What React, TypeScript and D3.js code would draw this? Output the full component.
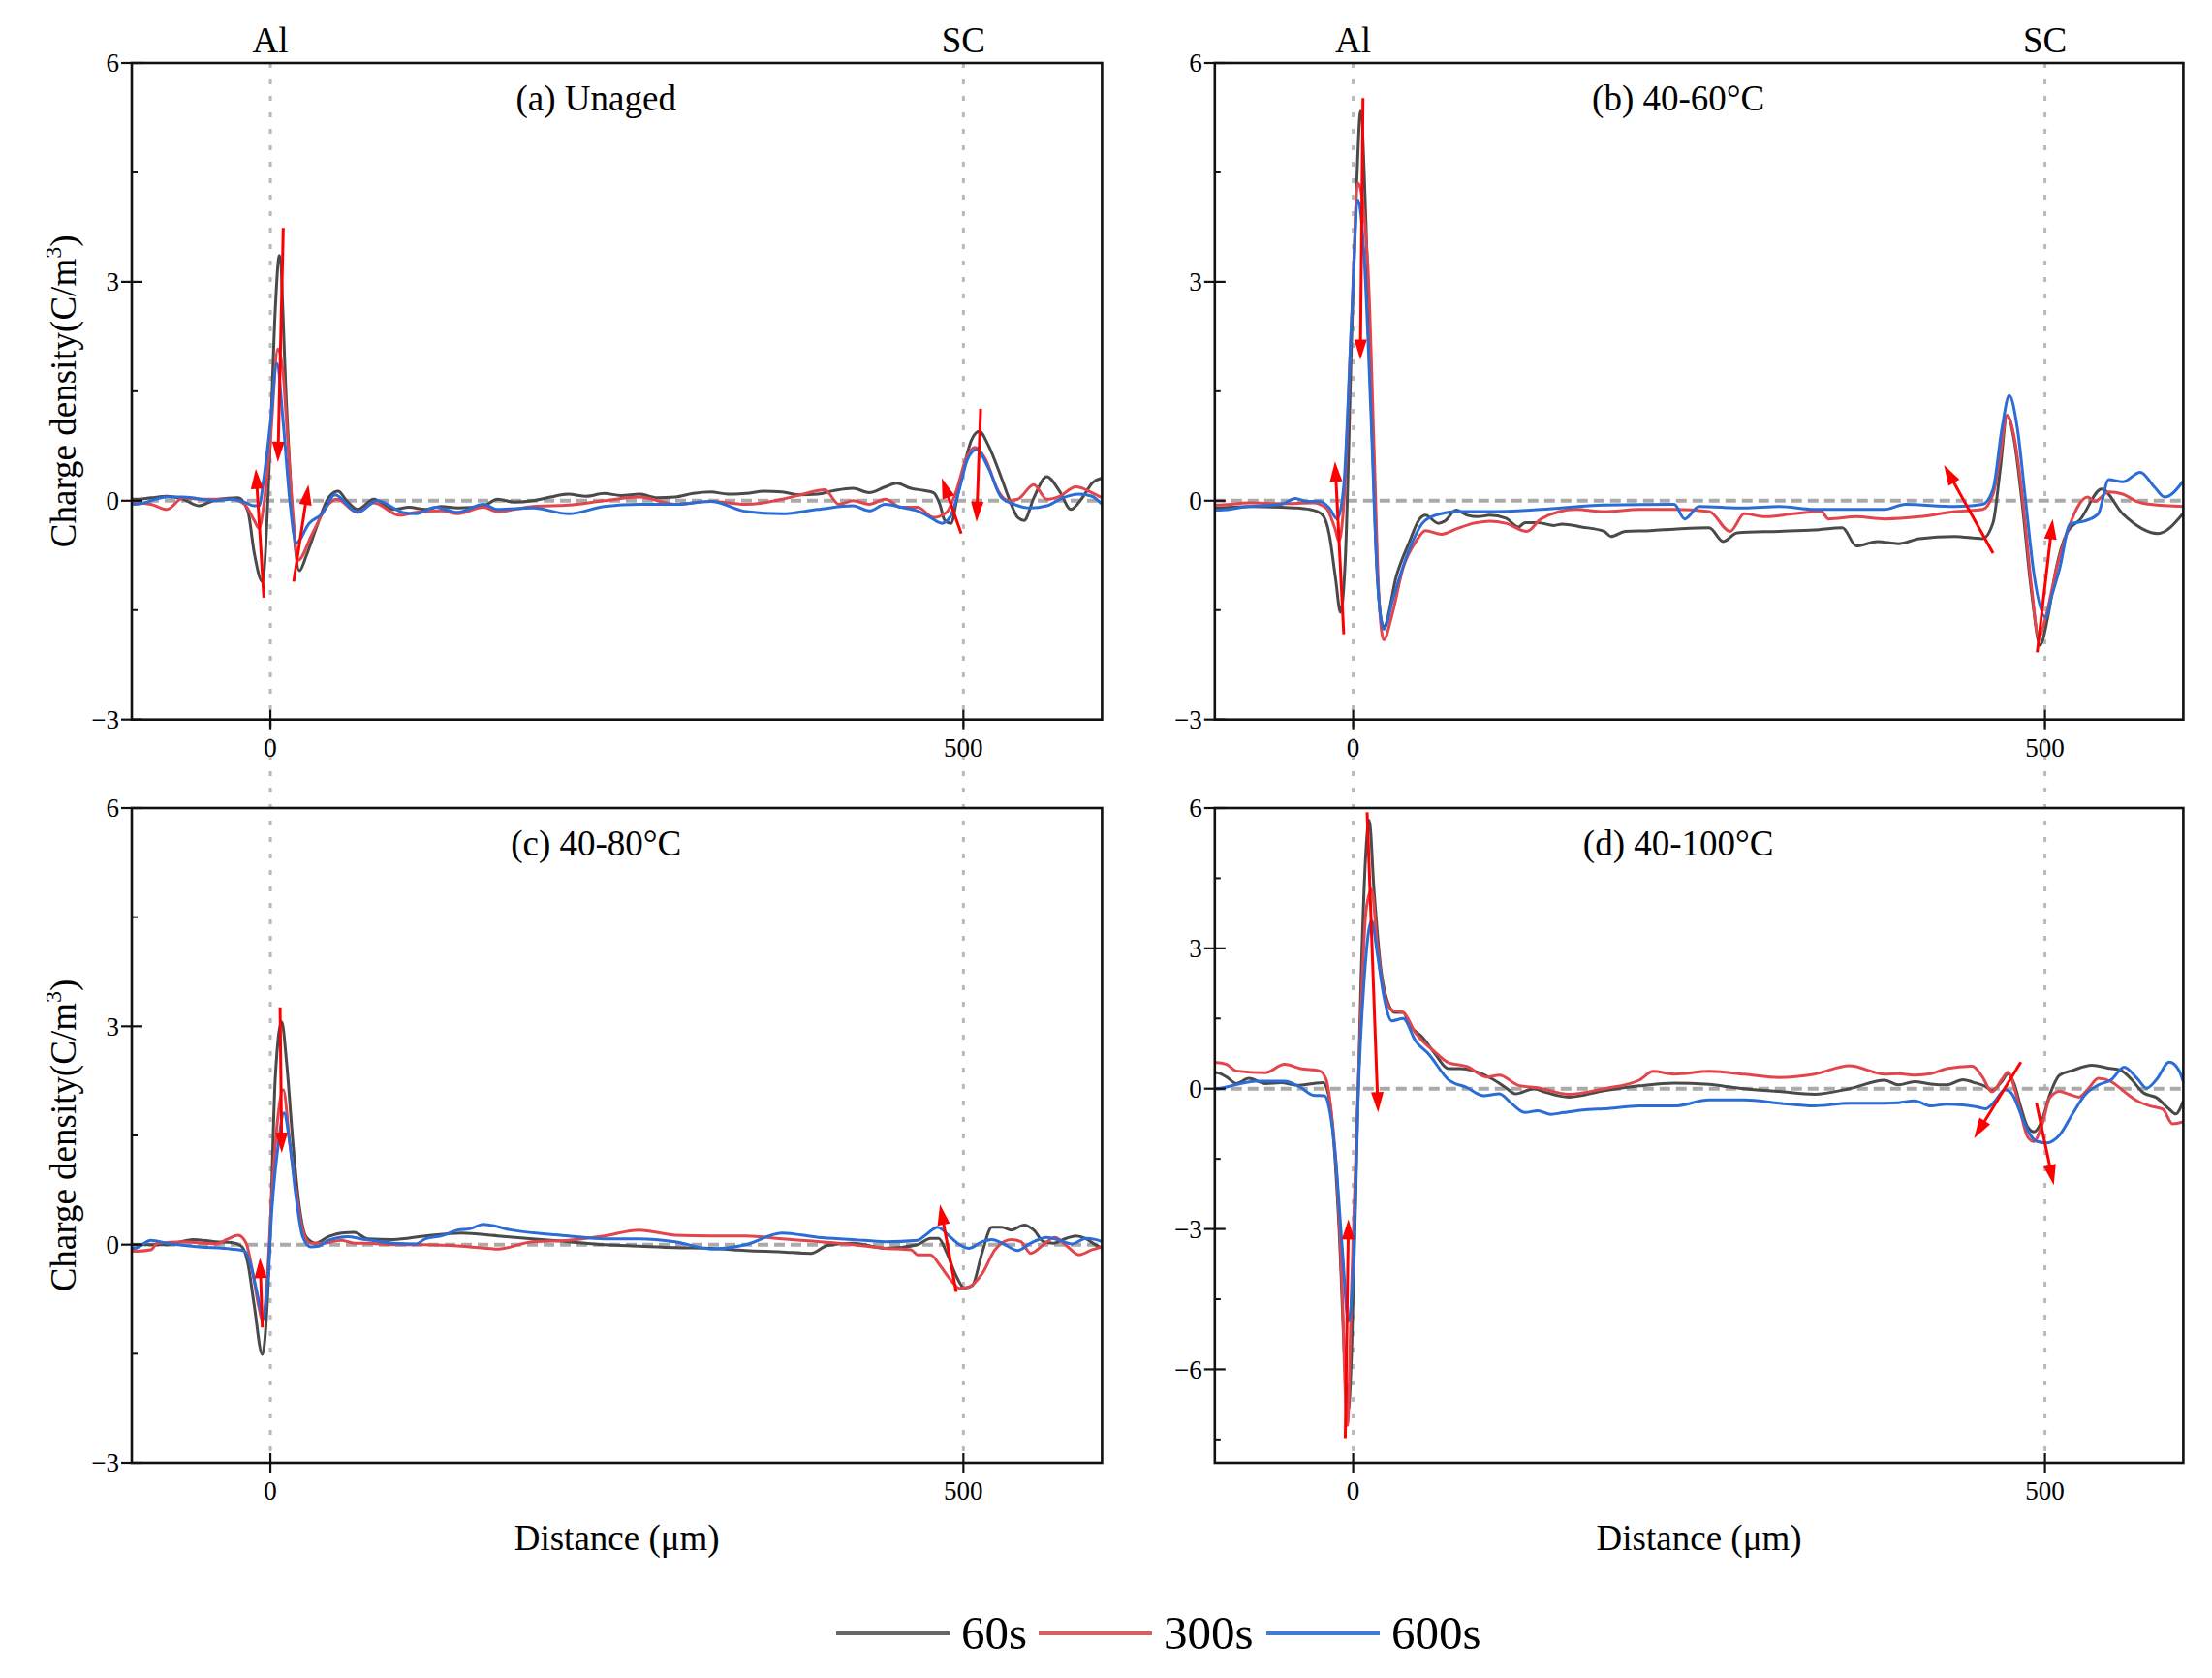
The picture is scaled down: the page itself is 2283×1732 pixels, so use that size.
import * as d3 from 'd3';

type Pt = [number, number];
// arrow: from (x, y) to the tip (x, y), in data units
type ArrowSpec = [number, number, number, number];

// ---- values (distance in µm, charge density in C/m³) ----

const unaged60: Pt[] = [
  [-100, 0.02], [-97.9, 0.02], [-86, 0.04], [-74.6, 0.06], [-62.9, 0.02], [-51.3, -0.07], [-44, -0.02],
  [-37.3, 0.02], [-23.3, 0.04], [-16.3, -0.14], [-11.7, -0.71], [-5.8, -1.11], [0, 0.84], [3.5, 2.61],
  [6.5, 3.36], [11.7, 1.28], [16.3, -0.27], [21, -0.96], [26, -0.75], [32.6, -0.4], [41.9, 0.04],
  [48.9, 0.13], [55, 0], [62.9, -0.12], [74.6, 0.02], [88.6, -0.12], [100.2, -0.09], [111.9, -0.12],
  [123, -0.08], [135.2, -0.1], [153.8, -0.07], [163.8, 0.02], [176, -0.02], [189.4, 0], [202, 0.05],
  [215.1, 0.09], [228, 0.06], [240.8, 0.1], [253, 0.07], [266.4, 0.09], [279, 0.04], [292.1, 0.05],
  [305, 0.1], [317.8, 0.12], [330, 0.09], [343.4, 0.1], [356, 0.13], [369.1, 0.12], [382, 0.08],
  [394.8, 0.09], [407, 0.14], [420.3, 0.17], [432, 0.11], [443.6, 0.19], [452, 0.24], [462, 0.17],
  [471.5, 0.14], [478.5, 0.11], [483, -0.05], [486.5, -0.27], [491, -0.31], [495.5, 0.04], [500.5, 0.48],
  [506, 0.84], [511.5, 0.95], [518.2, 0.75], [527.5, 0.31], [534.5, -0.05], [539.2, -0.23], [543.8, -0.27],
  [550.8, 0.04], [560.1, 0.33], [569.4, 0.13], [577.5, -0.12], [585.8, 0.04], [592.8, 0.24], [600, 0.31],
];
const unaged300: Pt[] = [
  [-100, -0.03], [-97.9, -0.03], [-86.2, -0.05], [-74.6, -0.12], [-62.9, 0.04], [-51.3, 0.02], [-28, 0.02],
  [-18.6, -0.05], [-11.7, -0.27], [-8.2, -0.38], [-4.7, -0.05], [0, 0.84], [5.4, 2.08], [9.3, 1.72],
  [11.7, 1.06], [16.3, -0.18], [19.8, -0.82], [30.3, -0.45], [41.9, -0.05], [47.8, 0.02], [62.9, -0.16],
  [74.6, -0.03], [93.2, -0.2], [104.9, -0.16], [123.5, -0.14], [135.2, -0.18], [153.8, -0.09], [163.8, -0.15],
  [176, -0.12], [189.4, -0.08], [215.1, -0.06], [240.8, 0], [266.4, 0.05], [292.1, -0.05], [317.8, -0.01],
  [343.4, -0.05], [369.1, 0.02], [384.5, 0.09], [399.9, 0.15], [410.2, -0.05], [420.3, 0], [432, -0.05],
  [443.6, 0.02], [455.2, -0.09], [466.9, -0.09], [478.5, -0.23], [487.8, -0.16], [494.8, 0.13], [501.8, 0.57],
  [508.3, 0.73], [515.9, 0.57], [525.2, 0.13], [532.2, 0], [539.2, 0.02], [550.8, 0.22], [560.1, 0.02],
  [569.4, 0.06], [581, 0.19], [592.8, 0.11], [600, 0.04],
];
const unaged600: Pt[] = [
  [-100, -0.05], [-97.9, -0.05], [-74.6, 0.05], [-62.9, 0.05], [-39.6, 0], [-28, 0.02], [-18.6, -0.02],
  [-11.7, -0.07], [-8.2, -0.07], [-4.7, 0.31], [0, 1.06], [4.7, 1.88], [9.3, 1.06], [14, 0], [18.6, -0.58],
  [28, -0.31], [37.3, -0.18], [46.6, 0.08], [62.9, -0.16], [76.9, 0], [95.6, -0.16], [104.9, -0.18],
  [118.9, -0.09], [135.2, -0.16], [153.8, -0.05], [163.8, -0.12], [189.4, -0.1], [215.1, -0.18], [240.8, -0.08],
  [266.4, -0.05], [292.1, -0.05], [317.8, -0.01], [343.4, -0.15], [369.1, -0.18], [394.8, -0.12], [420.3, -0.07],
  [432, -0.14], [443.6, -0.05], [455.2, -0.09], [466.9, -0.14], [476.2, -0.23], [484.4, -0.31], [490.2, -0.23],
  [497.2, 0.17], [503, 0.57], [509.5, 0.7], [518.2, 0.44], [527.5, 0.04], [536.8, -0.05], [548.5, -0.1],
  [560.1, -0.07], [571.7, 0.04], [583.4, 0.09], [592.8, 0.06], [600, -0.05],
];
const unagedArrows: ArrowSpec[] = [
  [-4.7, -1.33, -10.5, 0.44], [9.3, 3.74, 5.4, 0.53], [16.8, -1.11, 27.5, 0.22],
  [498.4, -0.45, 484.4, 0.31], [512.4, 1.26, 509.5, -0.29],
];

const aged60to60s: Pt[] = [
  [-100, -0.1], [-98.5, -0.1], [-75.3, -0.08], [-52.1, -0.09], [-40.5, -0.1], [-28.9, -0.13], [-21.9, -0.2],
  [-17.3, -0.46], [-12.7, -1.07], [-9.2, -1.53], [-5.7, -0.81], [-1.1, 2.24], [2.4, 4.27], [5.4, 5.34],
  [9.3, 3.77], [12.8, 1.48], [16.3, -0.56], [19.8, -1.58], [22.1, -1.73], [31.4, -1.02], [40.7, -0.56],
  [47.7, -0.26], [52.3, -0.2], [61.6, -0.31], [66.2, -0.28], [74.4, -0.13], [82.5, -0.2], [90.2, -0.22],
  [98.7, -0.2], [110.3, -0.24], [119.6, -0.36], [124.2, -0.3], [133.5, -0.3], [145.1, -0.34], [151, -0.32],
  [165, -0.36], [181.4, -0.42], [186.4, -0.49], [196.6, -0.42], [215, -0.41], [232, -0.39], [257.3, -0.37],
  [267.5, -0.56], [277.6, -0.44], [308, -0.42], [333.3, -0.4], [353.6, -0.37], [363.7, -0.62], [378.9, -0.56],
  [394.1, -0.59], [409.3, -0.52], [434.7, -0.49], [454.9, -0.52], [462.5, -0.3], [467.5, 0.4], [472.6, 1.17],
  [478, 0.8], [482.8, 0.09], [490.4, -1.27], [496.5, -1.98], [502, -1.6], [508.1, -0.93], [515.7, -0.45],
  [525.8, -0.25], [541, 0.16], [556.2, -0.18], [581.6, -0.45], [600, -0.17],
];
const aged60to300s: Pt[] = [
  [-100, -0.06], [-98.5, -0.06], [-75.3, -0.03], [-52.1, -0.04], [-28.9, -0.03], [-19.6, -0.1], [-12.7, -0.41],
  [-10.3, -0.56], [-6.8, -0.05], [-1.1, 2.49], [3.5, 4.35], [10.5, 3.26], [15.1, 0.71], [18.6, -1.32],
  [22.1, -1.91], [27.9, -1.58], [36.1, -0.92], [45.3, -0.56], [52.3, -0.41], [63.9, -0.46], [75.5, -0.38],
  [87.1, -0.31], [98.7, -0.28], [110.3, -0.31], [125.6, -0.42], [135.8, -0.25], [161.1, -0.12], [181.4, -0.15],
  [206.7, -0.12], [232, -0.12], [257.3, -0.15], [272.5, -0.42], [282.7, -0.18], [297.9, -0.22], [318.1, -0.18],
  [338.4, -0.15], [343.5, -0.25], [363.7, -0.22], [384, -0.25], [409.3, -0.22], [434.7, -0.15], [454.9, -0.12],
  [462.5, 0.09], [467.5, 0.6], [472.6, 1.17], [478, 0.85], [484, 0], [490.4, -1.2], [495.4, -1.87],
  [500.5, -1.6], [508.1, -0.95], [515.7, -0.45], [530.9, 0.05], [536, -0.01], [546.1, 0.12], [556.2, 0.09],
  [566.4, -0.01], [576.5, -0.05], [600, -0.08],
];
const aged60to600s: Pt[] = [
  [-100, -0.13], [-98.5, -0.13], [-75.3, -0.08], [-52.1, -0.05], [-41.6, 0.03], [-33.5, -0.01], [-24.2, -0.01],
  [-17.3, -0.1], [-11.5, -0.25], [-6.8, 0.2], [-1.1, 2.49], [3.5, 4.12], [8.2, 3.26], [12.8, 1.22],
  [17.5, -1.07], [22.1, -1.76], [29.1, -1.32], [40.7, -0.66], [50, -0.31], [59.3, -0.2], [75.5, -0.15],
  [98.7, -0.15], [135.8, -0.12], [181.4, -0.06], [232, -0.05], [239.6, -0.25], [250, -0.08], [282.7, -0.1],
  [308, -0.08], [333.3, -0.12], [384, -0.12], [399.2, -0.05], [434.7, -0.08], [454.9, -0.05], [462.5, 0.16],
  [469, 1], [474.2, 1.44], [480, 1], [486, 0], [492, -1], [500.5, -1.6], [505, -1.3], [510.6, -0.93],
  [518.2, -0.32], [528.4, -0.28], [538.5, -0.18], [546.1, 0.29], [556.2, 0.26], [568.9, 0.39], [579, 0.19],
  [586.6, 0.05], [600, 0.27],
];
const aged60Arrows: ArrowSpec[] = [
  [-6.8, -1.83, -13.1, 0.54], [7.1, 5.52, 5.2, 1.93], [462.5, -0.72, 427.1, 0.49], [494.4, -2.08, 505.6, -0.25],
];

const aged80to60s: Pt[] = [
  [-100, 0], [-97.9, 0], [-74.6, 0], [-55.9, 0.07], [-39.6, 0.04], [-28, 0.03], [-21, -0.02], [-16.3, -0.25],
  [-11.7, -0.83], [-5.8, -1.51], [-2.3, -0.83], [0, 0.2], [3.5, 2.28], [8.2, 3.06], [11.7, 2.5], [16.3, 1.39],
  [21, 0.51], [25.6, 0.11], [32.6, 0.02], [41.9, 0.11], [51.3, 0.16], [60.6, 0.17], [69.9, 0.08], [88.6, 0.07],
  [112, 0.12], [138, 0.16], [164, 0.12], [189, 0.08], [215, 0.04], [241, 0], [266, -0.02], [292, -0.04],
  [318, -0.05], [343, -0.08], [369, -0.1], [390, -0.12], [402, -0.01], [420.3, 0.02], [443.6, -0.05],
  [466.9, 0], [476.2, 0.085], [482.1, 0.085], [487.9, -0.11], [494.8, -0.43], [500.7, -0.6], [506.5, -0.56],
  [513.5, -0.11], [520.5, 0.24], [527.5, 0.24], [534.5, 0.2], [543.8, 0.27], [550.8, 0.2], [557.8, 0.04],
  [564.8, 0.02], [574.1, 0.085], [581.1, 0.12], [588.1, 0.085], [595.1, 0], [600, -0.05],
];
const aged80to300s: Pt[] = [
  [-100, -0.09], [-97.9, -0.09], [-86.2, -0.07], [-81.5, 0.02], [-62.9, 0.04], [-39.6, 0.01], [-30.3, 0.08],
  [-23.3, 0.13], [-17.5, 0.02], [-12.8, -0.38], [-8.2, -0.87], [-5.8, -1.05], [-2.3, -0.47], [1.2, 0.73],
  [4.7, 1.62], [9.3, 2.13], [14, 1.39], [18.6, 0.73], [23.3, 0.2], [29.1, 0.02], [37.3, 0.02], [51.3, 0.06],
  [60.6, 0.02], [69.9, 0.02], [88.6, 0], [112, 0], [138, -0.02], [164, -0.06], [189, 0.04], [215, 0.06],
  [241, 0.12], [266, 0.2], [292, 0.13], [318, 0.12], [343, 0.12], [369, 0.08], [420.3, 0], [443.6, -0.05],
  [462.2, -0.07], [466.9, -0.14], [476.2, -0.14], [483.3, -0.29], [490.2, -0.47], [497.2, -0.6], [504.2, -0.58],
  [513.5, -0.4], [522.8, -0.07], [534.5, 0.07], [541.5, 0.04], [548.5, -0.12], [557.8, 0], [566, 0.1],
  [574.1, -0.01], [583.4, -0.14], [592.8, -0.07], [600, -0.03],
];
const aged80to600s: Pt[] = [
  [-100, -0.05], [-97.9, -0.05], [-86.2, 0.06], [-74.6, 0.02], [-51.3, -0.03], [-28, -0.06], [-18.6, -0.09],
  [-14, -0.29], [-9.3, -0.69], [-5.1, -1.02], [-2.3, -0.6], [1.2, 0.51], [5.8, 1.39], [9.8, 1.81], [14, 1.39],
  [18.6, 0.64], [23.3, 0.11], [29.1, -0.03], [34.9, -0.02], [41.9, 0.06], [55.9, 0.11], [65.3, 0.08],
  [88.6, 0.02], [104.9, 0.01], [111.9, 0.08], [123.5, 0.12], [135.2, 0.2], [144.5, 0.22], [153.5, 0.28],
  [174, 0.2], [215, 0.12], [241, 0.08], [266, 0.08], [292, 0.04], [318, -0.06], [343, 0], [369, 0.16],
  [395, 0.1], [420.3, 0.07], [443.6, 0.04], [466.9, 0.06], [473.9, 0.15], [481.4, 0.24], [490.2, 0.11],
  [497.2, 0], [504.2, -0.05], [513.5, 0.04], [520.5, 0.07], [529.9, 0], [539.1, -0.08], [548.5, 0.02],
  [560.1, 0.1], [569.4, 0.06], [578.7, 0.01], [588.1, 0.085], [595.1, 0.07], [600, 0.04],
];
const aged80Arrows: ArrowSpec[] = [
  [-5.8, -1.14, -7.5, -0.18], [7, 3.26, 8.2, 1.26], [494.8, -0.65, 483.1, 0.55],
];

const aged100to60s: Pt[] = [
  [-100, 0.34], [-98.5, 0.34], [-91.5, 0.25], [-84.5, 0.11], [-75.3, 0.22], [-63.6, 0.11], [-52.1, 0.13],
  [-40.5, 0.07], [-28.9, 0.11], [-21.9, 0.13], [-18.4, -0.06], [-15, -0.78], [-10.3, -2.92], [-5.7, -6.04],
  [-3.4, -6.85], [-1.1, -5.6], [2.4, -1.58], [5.8, 2.43], [9.3, 5.11], [11.6, 5.74], [15.1, 4.22], [19.8, 2.61],
  [24.4, 1.9], [30.2, 1.63], [36.1, 1.63], [40.7, 1.36], [50, 1.1], [59.3, 0.74], [68.6, 0.43], [77.8, 0.43],
  [87.1, 0.38], [101, 0.2], [110.3, 0.02], [117.3, -0.11], [130.7, 0], [138.2, -0.07], [156, -0.18],
  [181.4, -0.04], [206.7, 0.06], [232, 0.12], [257.3, 0.09], [282.7, 0], [308, -0.06], [333.3, -0.12],
  [358.7, 0], [384, 0.18], [394.1, 0.08], [405.7, 0.15], [417.4, 0.1], [429, 0.08], [440.7, 0.19], [450, 0.12],
  [457, 0.05], [461.7, -0.04], [468.7, 0.15], [473.3, 0.32], [478, 0.08], [482.6, -0.4], [487.3, -0.81],
  [492, -0.92], [497.8, -0.68], [503.6, -0.12], [510.6, 0.29], [519.9, 0.39], [533.9, 0.5], [545.6, 0.44],
  [554.9, 0.39], [561.9, 0.22], [571.2, -0.09], [580.5, -0.19], [589.9, -0.44], [594.5, -0.54], [600, -0.26],
];
const aged100to300s: Pt[] = [
  [-100, 0.56], [-98.5, 0.56], [-91.5, 0.52], [-84.5, 0.38], [-63.6, 0.34], [-49.7, 0.52], [-38.1, 0.43],
  [-24.2, 0.38], [-19.6, 0.2], [-16.1, -0.42], [-11.5, -2.03], [-8, -4.26], [-5.7, -6.49], [-4.1, -7.2],
  [-1.1, -4.2], [2.4, -1], [5.8, 1.8], [9.3, 3.8], [13.3, 4.26], [17.5, 3.06], [22.1, 2.08], [27.9, 1.68],
  [36.1, 1.63], [45.3, 1.18], [59.3, 0.78], [68.6, 0.56], [82.5, 0.47], [96.4, 0.25], [105.7, 0.29],
  [119.6, 0.07], [133.5, 0.02], [156, -0.12], [181.4, 0], [206.7, 0.18], [216.8, 0.37], [232, 0.31],
  [257.3, 0.37], [282.7, 0.31], [308, 0.24], [333.3, 0.31], [358.7, 0.49], [384, 0.31], [394.1, 0.32],
  [405.7, 0.29], [417.4, 0.32], [429, 0.43], [447.6, 0.48], [454.6, 0.26], [461.7, -0.07], [468.7, 0.19],
  [473.3, 0.35], [478, 0.01], [482.6, -0.54], [487.3, -1.02], [492, -1.13], [497.8, -0.78], [503.6, -0.19],
  [510.6, -0.06], [517.6, -0.12], [524.6, -0.18], [531.6, 0.01], [538.6, 0.22], [547.9, 0.15], [557.2, -0.06],
  [566.6, -0.26], [575.9, -0.37], [585.2, -0.44], [592.2, -0.75], [600, -0.71],
];
const aged100to600s: Pt[] = [
  [-100, 0], [-98.5, 0], [-86.8, 0.07], [-70.6, 0.16], [-49.7, 0.16], [-38.1, 0.03], [-28.9, -0.14],
  [-20.8, -0.15], [-17.3, -0.42], [-12.7, -1.49], [-8, -3.37], [-3.4, -4.97], [0.1, -3.81], [3.5, -0.24],
  [8.2, 2.43], [13.3, 3.59], [17.5, 2.88], [22.1, 1.99], [27.9, 1.45], [36.1, 1.5], [45.3, 1.01], [54.6, 0.74],
  [68.6, 0.2], [82.5, 0.02], [94.1, -0.15], [105.7, -0.11], [114.9, -0.33], [124.2, -0.51], [133.5, -0.47],
  [142.8, -0.55], [152.1, -0.51], [168, -0.45], [181.4, -0.43], [206.7, -0.37], [232, -0.37], [257.3, -0.24],
  [282.7, -0.24], [308, -0.31], [333.3, -0.37], [358.7, -0.31], [384, -0.31], [394.1, -0.3], [405.7, -0.26],
  [417.4, -0.37], [429, -0.33], [440.7, -0.35], [452.3, -0.4], [457, -0.43], [464, -0.26], [471, -0.02],
  [475.6, -0.09], [482.6, -0.54], [487.3, -0.88], [494.3, -1.13], [501.3, -1.16], [510.6, -0.99],
  [519.9, -0.54], [529.3, -0.12], [538.6, 0.08], [547.9, 0.19], [557.2, 0.46], [566.6, 0.22], [573.5, 0.01],
  [580.5, 0.19], [589.9, 0.57], [596.9, 0.39], [600, 0.15],
];
const aged100Arrows: ArrowSpec[] = [
  [-5.7, -7.47, -3.4, -2.79], [10.1, 5.91, 18, -0.51], [482.6, 0.57, 448.8, -1.06], [493.8, -0.3, 506.4, -2.06],
];

const seriesLabels = ['60s', '300s', '600s'];
const lineColors = ['#4a4a4a', '#e2454b', '#2a6dd7'];
const legendColors = ['#666666', '#d9605e', '#3f7ed1'];

const xDomain: [number, number] = [-100, 600];
const xTickValues = [0, 500];
const electrodes = [{ at: 0, label: 'Al' }, { at: 500, label: 'SC' }];
const yTicksNarrow = [6, 3, 0, -3];
const yTicksWide = [6, 3, 0, -3, -6];
const titleAt = 235; // panel titles are centred near x = 235 µm

// ---- layout ----
const W = 2283;
const H = 1732;
const FONT = '"Liberation Serif", "Times New Roman", Times, serif';
const columns: [number, number][] = [[136, 1137.4], [1253.8, 2253.4]];
const rows: [number, number][] = [[65, 742.7], [834, 1510]];

interface PanelSpec {
  key: string;
  title: string;
  col: number;
  row: number;
  yDomain: [number, number];
  yTicks: number[];
  series: Pt[][];
  arrows: ArrowSpec[];
}

const panels: PanelSpec[] = [
  { key: 'a', title: '(a) Unaged', col: 0, row: 0, yDomain: [-3, 6], yTicks: yTicksNarrow,
    series: [unaged60, unaged300, unaged600], arrows: unagedArrows },
  { key: 'b', title: '(b) 40-60\u00b0C', col: 1, row: 0, yDomain: [-3, 6], yTicks: yTicksNarrow,
    series: [aged60to60s, aged60to300s, aged60to600s], arrows: aged60Arrows },
  { key: 'c', title: '(c) 40-80\u00b0C', col: 0, row: 1, yDomain: [-3, 6], yTicks: yTicksNarrow,
    series: [aged80to60s, aged80to300s, aged80to600s], arrows: aged80Arrows },
  { key: 'd', title: '(d) 40-100\u00b0C', col: 1, row: 1, yDomain: [-8, 6], yTicks: yTicksWide,
    series: [aged100to60s, aged100to300s, aged100to600s], arrows: aged100Arrows },
];

const fmt = (v: number) => (v < 0 ? `\u2212${Math.abs(v)}` : `${v}`);

function ArrowMark({ a, x, y }: { a: ArrowSpec; x: d3.ScaleLinear<number, number>; y: d3.ScaleLinear<number, number> }) {
  const sx = x(a[0]);
  const sy = y(a[1]);
  const tx = x(a[2]);
  const ty = y(a[3]);
  const len = Math.hypot(tx - sx, ty - sy);
  const ux = (tx - sx) / len;
  const uy = (ty - sy) / len;
  const headLen = 21;
  const half = 6.5;
  const bx = tx - ux * headLen;
  const by = ty - uy * headLen;
  const head = [
    [tx, ty],
    [bx - uy * half, by + ux * half],
    [bx + uy * half, by - ux * half],
  ];
  return (
    <g>
      <line x1={sx} y1={sy} x2={bx + ux * 2} y2={by + uy * 2} stroke='#ff0000' strokeWidth={3} />
      <polygon points={head.map((p) => p.join(',')).join(' ')} fill='#ff0000' />
    </g>
  );
}

function Panel({ p }: { p: PanelSpec }) {
  const [x0, x1] = columns[p.col];
  const [y0, y1] = rows[p.row];
  const x = d3.scaleLinear().domain(xDomain).range([x0, x1]);
  const y = d3.scaleLinear().domain(p.yDomain).range([y1, y0]);
  const line = d3
    .line<Pt>()
    .x((d) => x(d[0]))
    .y((d) => y(d[1]))
    .curve(d3.curveMonotoneX);

  const minor = d3
    .range(Math.ceil(p.yDomain[0] / 1.5) * 1.5, p.yDomain[1] + 1e-6, 1.5)
    .filter((v) => Math.abs(v % 3) > 0.1);
  const clipId = `clip-${p.key}`;

  return (
    <g>
      <defs>
        <clipPath id={clipId}>
          <rect x={x0} y={y0} width={x1 - x0} height={y1 - y0} />
        </clipPath>
      </defs>

      {/* zero line */}
      <line x1={x0} x2={x1} y1={y(0)} y2={y(0)} stroke='#aaaaaa' strokeWidth={4} strokeDasharray='11 6' />

      <g clipPath={`url(#${clipId})`}>
        {p.series.map((s, i) => (
          <path key={i} d={line(s) ?? ''} fill='none' stroke={lineColors[i]} strokeWidth={3} strokeLinejoin='round' />
        ))}
        {p.arrows.map((a, i) => (
          <ArrowMark key={i} a={a} x={x} y={y} />
        ))}
      </g>

      <rect x={x0} y={y0} width={x1 - x0} height={y1 - y0} fill='none' stroke='#111' strokeWidth={2.6} />

      {/* y ticks */}
      {p.yTicks.map((t) => (
        <g key={t}>
          <line x1={x0 - 11} x2={x0 + 11} y1={y(t)} y2={y(t)} stroke='#111' strokeWidth={2.2} />
          <text x={x0 - 13} y={y(t)} dy='0.35em' textAnchor='end' fontSize={27} fontFamily={FONT}>
            {fmt(t)}
          </text>
        </g>
      ))}
      {minor.map((t) => (
        <line key={t} x1={x0} x2={x0 + 6} y1={y(t)} y2={y(t)} stroke='#111' strokeWidth={2} />
      ))}

      {/* x ticks */}
      {xTickValues.map((t) => (
        <g key={t}>
          <line x1={x(t)} x2={x(t)} y1={y1 - 10} y2={y1 + 10} stroke='#111' strokeWidth={2.2} />
          <text x={x(t)} y={y1 + 38} textAnchor='middle' fontSize={27} fontFamily={FONT}>
            {t}
          </text>
        </g>
      ))}

      <text x={x(titleAt)} y={y0 + 49} textAnchor='middle' fontSize={37} fontFamily={FONT}>
        {p.title}
      </text>

      {p.row === 0 &&
        electrodes.map((e) => (
          <text key={e.label} x={x(e.at)} y={y0 - 11} textAnchor='middle' fontSize={37} fontFamily={FONT}>
            {e.label}
          </text>
        ))}

      {p.row === 1 && (
        <text x={(x0 + x1) / 2} y={1600} textAnchor='middle' fontSize={37} fontFamily={FONT}>
          Distance (μm)
        </text>
      )}

      {p.col === 0 && (
        <text
          transform={`translate(78,${(y0 + y1) / 2}) rotate(-90)`}
          textAnchor='middle'
          fontSize={37}
          fontFamily={FONT}
        >
          Charge density(C/m<tspan fontSize={24} dy={-15}>3</tspan>
          <tspan dy={15}>)</tspan>
        </text>
      )}
    </g>
  );
}

export default function App() {
  const legendX = [863, 1072, 1307];
  const legendY = 1686;

  return (
    <svg
      width={W}
      height={H}
      viewBox={`0 0 ${W} ${H}`}
      style={{ position: 'absolute', left: 0, top: 0, background: '#fff' }}
    >
      <rect width={W} height={H} fill='#fff' />

      {/* electrode guide lines run through both rows of a column */}
      {columns.map((c, ci) => {
        const x = d3.scaleLinear().domain(xDomain).range(c);
        return electrodes.map((e) => (
          <line
            key={`${ci}-${e.label}`}
            x1={x(e.at)}
            x2={x(e.at)}
            y1={rows[0][0]}
            y2={rows[1][1]}
            stroke='#b9b9b9'
            strokeWidth={3}
            strokeDasharray='5 12'
          />
        ));
      })}

      {panels.map((p) => (
        <Panel key={p.key} p={p} />
      ))}

      {seriesLabels.map((s, i) => (
        <g key={s}>
          <line x1={legendX[i]} x2={legendX[i] + 117} y1={legendY} y2={legendY} stroke={legendColors[i]} strokeWidth={4} />
          <text x={legendX[i] + 129} y={legendY + 16} fontSize={49} fontFamily={FONT}>
            {s}
          </text>
        </g>
      ))}
    </svg>
  );
}
